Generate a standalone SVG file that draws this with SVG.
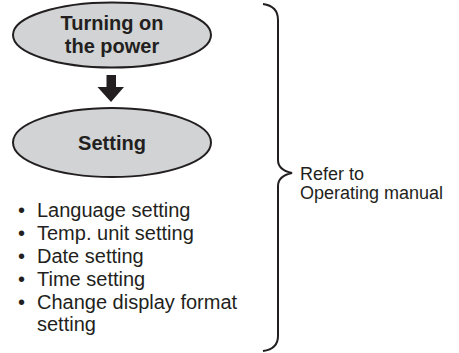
<svg xmlns="http://www.w3.org/2000/svg" width="459" height="353" viewBox="0 0 459 353">
<style>
.node ellipse{fill:#d1d3d4;stroke:#231f20;stroke-width:2}
.title{font-family:"Liberation Sans",Arial,sans-serif;font-weight:bold;font-size:20px;fill:#231f20;text-anchor:middle}
.body{font-family:"Liberation Sans",Arial,sans-serif;font-size:20px;fill:#231f20}
.note{font-family:"Liberation Sans",Arial,sans-serif;font-size:18px;fill:#231f20}
</style>
<rect width="459" height="353" fill="#fff"/>
<g id="node-power" class="node">
<ellipse cx="112" cy="35" rx="99" ry="32.5"/>
<text class="title" x="112" y="30">Turning on</text>
<text class="title" x="112" y="53">the power</text>
</g>
<g id="node-setting" class="node">
<ellipse cx="112" cy="142.5" rx="99" ry="34.5"/>
<text class="title" x="112" y="150">Setting</text>
</g>
<g id="connectors">
<path d="M106.5 75 H116 V87 H124 L111 102 L97.5 87 H106.5 Z" fill="#231f20"/>
</g>
<g id="list">
<text class="body" x="18" y="217">•<tspan x="37">Language setting</tspan></text>
<text class="body" x="18" y="240">•<tspan x="37">Temp. unit setting</tspan></text>
<text class="body" x="18" y="263">•<tspan x="37">Date setting</tspan></text>
<text class="body" x="18" y="286">•<tspan x="37">Time setting</tspan></text>
<text class="body" x="18" y="309">•<tspan x="37">Change display format</tspan></text>
<text class="body" x="37" y="331">setting</text>
</g>
<g id="bracket">
<path d="M263 4 Q278 6 278 20 V160 Q278 170 292 173 Q278 176 278 186 V336 Q278 349 263 351" fill="none" stroke="#231f20" stroke-width="2"/>
<text class="note" x="300" y="180">Refer to</text>
<text class="note" x="300" y="199">Operating manual</text>
</g>
</svg>
